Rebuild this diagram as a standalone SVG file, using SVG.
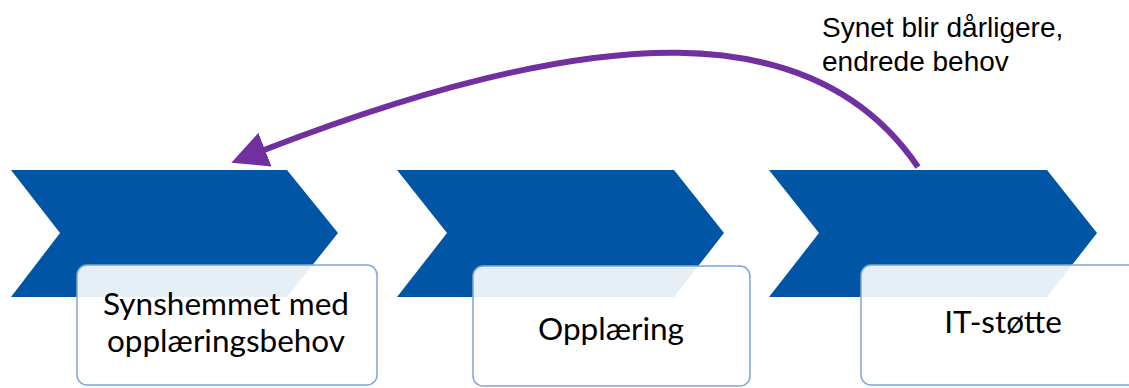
<svg xmlns="http://www.w3.org/2000/svg" width="1129" height="388" viewBox="0 0 1129 388">
  <style>
    .chev { fill: #0055A5; }
    .box { fill: #FFFFFF; fill-opacity: 0.9; stroke: #7BA7DB; stroke-width: 1.5; }
    .btxt { font-family: Lato, "Open Sans", sans-serif; font-size: 31.5px; fill: #000000; text-anchor: middle; }
    .lbl { font-family: "Liberation Sans", Arial, sans-serif; font-size: 28px; fill: #000000; }
    .conn { fill: none; stroke: #7030A0; stroke-width: 6; }
  </style>
  <defs>
    <marker id="ah" markerUnits="userSpaceOnUse" markerWidth="36" markerHeight="36" viewBox="0 0 36 36" refX="1" refY="18" orient="auto">
      <path d="M0,0 L36,18 L0,36 z" fill="#7030A0"/>
    </marker>
  </defs>
  <rect width="1129" height="388" fill="#FFFFFF"/>

  <g id="node-synshemmet">
    <polygon class="chev" points="11,170 287,170 338,233 287,297 11,297 60,233"/>
    <rect class="box" x="77" y="265" width="300" height="120" rx="10"/>
    <text class="btxt" x="226" y="315">Synshemmet med</text>
    <text class="btxt" x="226" y="352">opplæringsbehov</text>
  </g>

  <g id="node-opplaering">
    <polygon class="chev" points="397,170 674,170 724,233 674,297 397,297 447,233"/>
    <rect class="box" x="473" y="266" width="277" height="120" rx="10"/>
    <text class="btxt" x="611" y="340">Opplæring</text>
  </g>

  <g id="node-itstotte">
    <polygon class="chev" points="769,170 1047,170 1097,233 1047,297 769,297 819,233"/>
    <rect class="box" x="861" y="265" width="300" height="120" rx="10"/>
    <text class="btxt" x="1003" y="333">IT-støtte</text>
  </g>

  <g id="connectors">
    <path class="conn" d="M918,167 C815,15 600,20 264,150" marker-end="url(#ah)"/>
    <text class="lbl" x="822" y="37">Synet blir dårligere,</text>
    <text class="lbl" x="822" y="71">endrede behov</text>
  </g>
</svg>
